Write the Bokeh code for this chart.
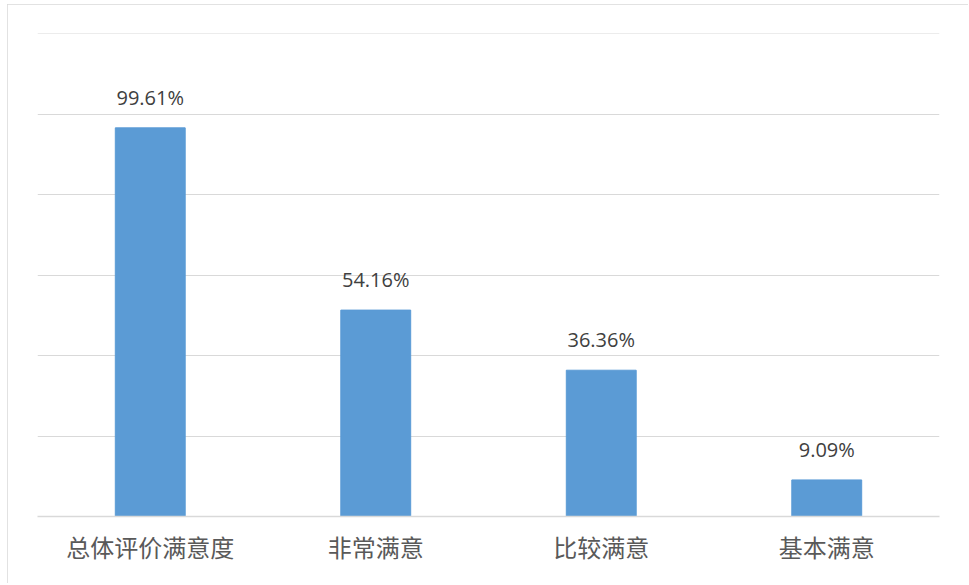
from bokeh.plotting import figure
from bokeh.models import ColumnDataSource, FixedTicker, LabelSet, InlineStyleSheet
from bokeh.core.properties import value
from bokeh.embed import file_html
from bokeh.resources import INLINE

categories = ["总体评价满意度", "非常满意", "比较满意", "基本满意"]
bar_heights = [96.6, 51.3, 36.36, 9.09]
value_labels = ["99.61%", "54.16%", "36.36%", "9.09%"]
y_ticks = [0, 20, 40, 60, 80, 100, 120]

source = ColumnDataSource(dict(cat=categories, h=bar_heights, lab=value_labels))

p = figure(x_range=categories, y_range=(0, 120.05), width=961, height=579,
           output_backend="svg", toolbar_location=None,
           min_border_left=30, min_border_right=29, min_border_top=29,
           min_border_bottom=67)

p.vbar(x="cat", top="h", width=0.31, source=source, color="#5b9bd5")

labels = LabelSet(x="cat", y="h", text="lab", source=source, text_align="center",
                  text_baseline="bottom", y_offset=17, text_font=value("Open Sans"),
                  text_font_size="20px", text_color="#404040")
p.add_layout(labels)

p.yaxis.visible = False
p.yaxis.ticker = FixedTicker(ticks=y_ticks)
p.ygrid.ticker = FixedTicker(ticks=y_ticks)
p.ygrid.grid_line_color = "#d9d9d9"
p.ygrid.grid_line_width = 1.2
p.xgrid.grid_line_color = None

p.xaxis.axis_line_color = "#d9d9d9"
p.xaxis.axis_line_width = 1.5
p.xaxis.major_tick_line_color = None
p.xaxis.minor_tick_line_color = None
p.xaxis.major_label_text_font = "Noto Sans CJK SC"
p.xaxis.major_label_text_font_size = "24px"
p.xaxis.major_label_text_color = "#595959"
p.xaxis.major_label_standoff = 6

p.outline_line_color = None
p.border_fill_color = "white"
p.background_fill_color = "white"
p.styles = {"margin-left": "7px", "margin-top": "4px"}
p.stylesheets = [InlineStyleSheet(css=":host { outline: 1px solid #d9d9d9; outline-offset: -1px; }")]

open("out.html", "w").write(file_html(p, INLINE))
